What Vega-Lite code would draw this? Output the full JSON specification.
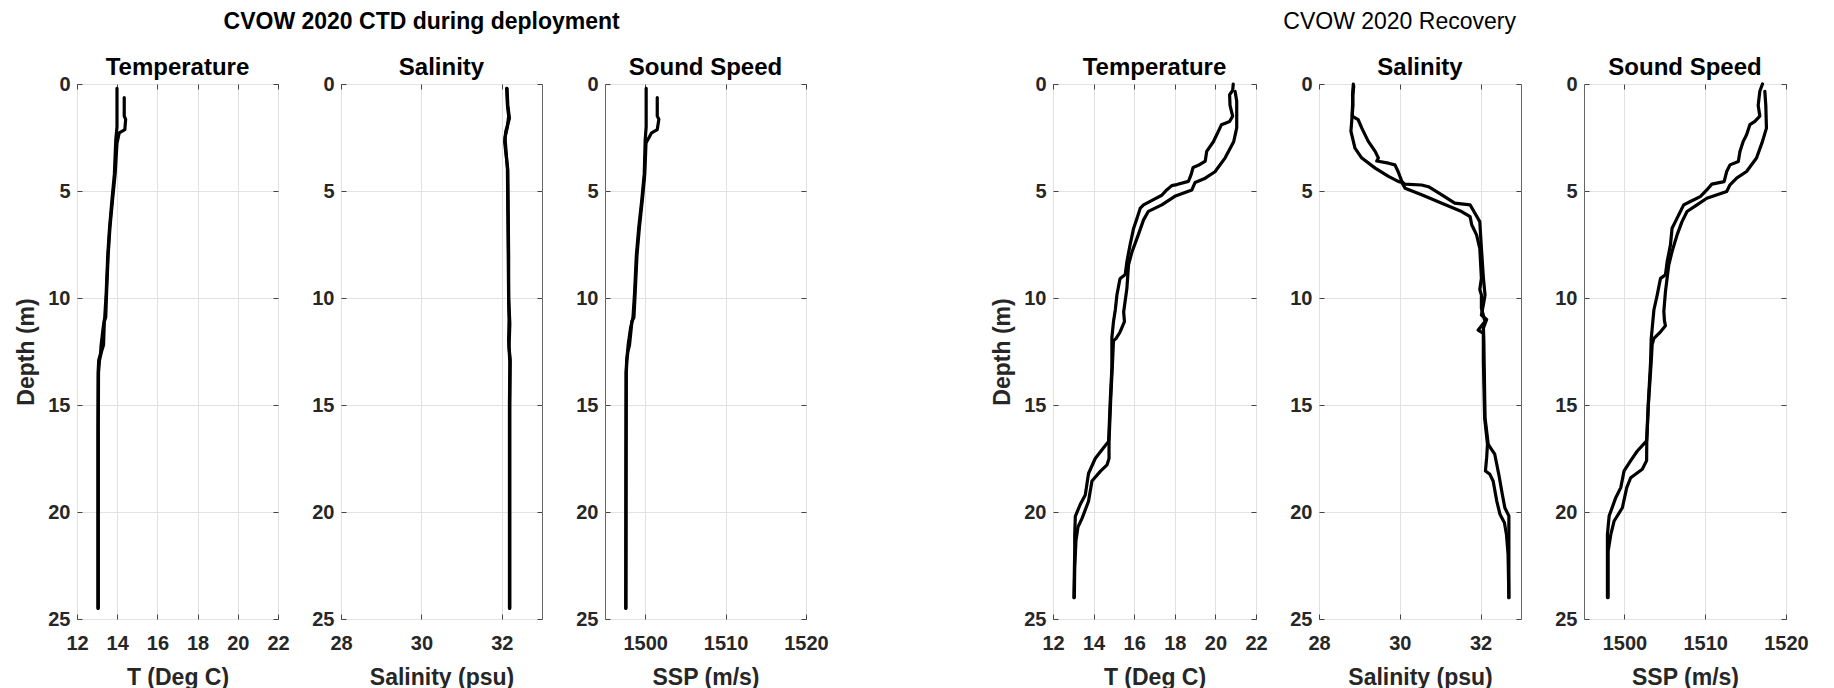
{
  "$schema": "https://vega.github.io/schema/vega-lite/v6.json",
  "background": "white",
  "padding": {"left": 14, "top": 10, "right": 0, "bottom": 0},
  "config": {
    "font": "Liberation Sans",
    "view": {"stroke": "#666666", "strokeWidth": 1},
    "axis": {
      "labelFont": "Liberation Sans", "labelFontSize": 20, "labelFontWeight": "bold", "labelColor": "#262626",
      "titleFont": "Liberation Sans", "titleFontSize": 23, "titleFontWeight": "bold", "titleColor": "#262626",
      "gridColor": "#e2e2e2", "gridWidth": 1, "domain": false, "tickColor": "#444444", "tickSize": -5, "tickWidth": 1,
      "labelFlush": false, "labelOverlap": false
    },
    "axisX": {"labelPadding": 19, "titlePadding": 13},
    "axisY": {"labelPadding": 12, "titlePadding": 10, "minExtent": 29, "maxExtent": 29},
    "title": {"font": "Liberation Sans", "fontSize": 24, "fontWeight": "bold", "color": "#000000", "baseline": "alphabetic", "offset": -6}
  },
  "datasets": {
    "depT": [
      {"c":1,"d":0.2,"v":13.99},{"c":1,"d":1.0,"v":13.99},{"c":1,"d":2.0,"v":13.99},{"c":1,"d":2.6,"v":13.93},{"c":1,"d":4.2,"v":13.86},{"c":1,"d":5.4,"v":13.74},{"c":1,"d":6.7,"v":13.62},{"c":1,"d":8.0,"v":13.53},{"c":1,"d":9.8,"v":13.45},{"c":1,"d":10.9,"v":13.38},{"c":1,"d":11.4,"v":13.3},{"c":1,"d":12.2,"v":13.2},{"c":1,"d":12.6,"v":13.17},{"c":1,"d":12.9,"v":13.08},{"c":1,"d":13.5,"v":13.05},{"c":1,"d":16,"v":13.04},{"c":1,"d":20,"v":13.04},{"c":1,"d":24.5,"v":13.04},
      {"c":2,"d":0.63,"v":14.35},{"c":2,"d":1.5,"v":14.35},{"c":2,"d":1.65,"v":14.42},{"c":2,"d":2.13,"v":14.38},{"c":2,"d":2.28,"v":14.1},{"c":2,"d":2.76,"v":13.99},{"c":2,"d":4.17,"v":13.9},{"c":2,"d":5.4,"v":13.77},{"c":2,"d":6.7,"v":13.64},{"c":2,"d":8.0,"v":13.55},{"c":2,"d":9.8,"v":13.47},{"c":2,"d":10.9,"v":13.43},{"c":2,"d":11.1,"v":13.36},{"c":2,"d":12.2,"v":13.32},{"c":2,"d":12.5,"v":13.22},{"c":2,"d":12.9,"v":13.12},{"c":2,"d":13.5,"v":13.07},{"c":2,"d":16,"v":13.06},{"c":2,"d":20,"v":13.06},{"c":2,"d":24.5,"v":13.06}
    ],
    "depS": [
      {"c":1,"d":0.2,"v":32.12},{"c":1,"d":1.0,"v":32.14},{"c":1,"d":1.5,"v":32.17},{"c":1,"d":2.0,"v":32.14},{"c":1,"d":2.5,"v":32.08},{"c":1,"d":3.0,"v":32.1},{"c":1,"d":4.0,"v":32.14},{"c":1,"d":6,"v":32.15},{"c":1,"d":8,"v":32.16},{"c":1,"d":10,"v":32.17},{"c":1,"d":11,"v":32.18},{"c":1,"d":12,"v":32.17},{"c":1,"d":13,"v":32.2},{"c":1,"d":15,"v":32.19},{"c":1,"d":20,"v":32.19},{"c":1,"d":24.5,"v":32.19},
      {"c":2,"d":0.2,"v":32.13},{"c":2,"d":1.0,"v":32.15},{"c":2,"d":1.6,"v":32.19},{"c":2,"d":2.2,"v":32.1},{"c":2,"d":2.7,"v":32.07},{"c":2,"d":3.2,"v":32.1},{"c":2,"d":4.0,"v":32.15},{"c":2,"d":6,"v":32.16},{"c":2,"d":8,"v":32.17},{"c":2,"d":10,"v":32.17},{"c":2,"d":11.2,"v":32.2},{"c":2,"d":12.3,"v":32.18},{"c":2,"d":12.9,"v":32.21},{"c":2,"d":15,"v":32.2},{"c":2,"d":20,"v":32.2},{"c":2,"d":24.5,"v":32.2}
    ],
    "depC": [
      {"c":1,"d":0.2,"v":1500.12},{"c":1,"d":2.0,"v":1500.12},{"c":1,"d":2.6,"v":1500.0},{"c":1,"d":4.2,"v":1499.88},{"c":1,"d":5.4,"v":1499.58},{"c":1,"d":6.7,"v":1499.2},{"c":1,"d":8.0,"v":1498.9},{"c":1,"d":9.8,"v":1498.67},{"c":1,"d":10.9,"v":1498.48},{"c":1,"d":11.4,"v":1498.18},{"c":1,"d":12.2,"v":1497.88},{"c":1,"d":12.9,"v":1497.7},{"c":1,"d":13.5,"v":1497.62},{"c":1,"d":18,"v":1497.6},{"c":1,"d":24.5,"v":1497.58},
      {"c":2,"d":0.63,"v":1501.5},{"c":2,"d":1.5,"v":1501.5},{"c":2,"d":1.65,"v":1501.7},{"c":2,"d":2.13,"v":1501.5},{"c":2,"d":2.28,"v":1500.8},{"c":2,"d":2.76,"v":1500.1},{"c":2,"d":4.2,"v":1499.95},{"c":2,"d":5.4,"v":1499.65},{"c":2,"d":6.7,"v":1499.28},{"c":2,"d":8.0,"v":1498.98},{"c":2,"d":9.8,"v":1498.75},{"c":2,"d":10.9,"v":1498.6},{"c":2,"d":11.1,"v":1498.35},{"c":2,"d":12.2,"v":1498.05},{"c":2,"d":12.5,"v":1497.85},{"c":2,"d":12.9,"v":1497.72},{"c":2,"d":13.5,"v":1497.65},{"c":2,"d":18,"v":1497.62},{"c":2,"d":24.5,"v":1497.6}
    ],
    "recT": [
      {"c":1,"d":0.0,"v":20.88},{"c":1,"d":0.3,"v":20.85},{"c":1,"d":0.5,"v":20.7},{"c":1,"d":1.0,"v":20.72},{"c":1,"d":1.5,"v":20.85},{"c":1,"d":1.75,"v":20.7},{"c":1,"d":1.9,"v":20.3},{"c":1,"d":2.2,"v":20.15},{"c":1,"d":2.7,"v":19.9},{"c":1,"d":3.15,"v":19.57},{"c":1,"d":3.6,"v":19.5},{"c":1,"d":3.8,"v":19.16},{"c":1,"d":3.9,"v":18.9},{"c":1,"d":4.25,"v":18.8},{"c":1,"d":4.55,"v":18.67},{"c":1,"d":4.7,"v":18.1},{"c":1,"d":4.75,"v":17.85},{"c":1,"d":4.95,"v":17.6},{"c":1,"d":5.2,"v":17.36},{"c":1,"d":5.4,"v":16.95},{"c":1,"d":5.65,"v":16.46},{"c":1,"d":5.8,"v":16.3},{"c":1,"d":6.3,"v":16.13},{"c":1,"d":6.75,"v":15.97},{"c":1,"d":7.5,"v":15.8},{"c":1,"d":8.3,"v":15.64},{"c":1,"d":8.9,"v":15.56},{"c":1,"d":9.1,"v":15.3},{"c":1,"d":9.85,"v":15.15},{"c":1,"d":10.55,"v":15.07},{"c":1,"d":11.1,"v":14.98},{"c":1,"d":11.85,"v":14.9},{"c":1,"d":13.25,"v":14.9},{"c":1,"d":14.8,"v":14.82},{"c":1,"d":16.7,"v":14.74},{"c":1,"d":17.0,"v":14.49},{"c":1,"d":17.5,"v":14.08},{"c":1,"d":18.2,"v":13.75},{"c":1,"d":19.2,"v":13.59},{"c":1,"d":19.65,"v":13.34},{"c":1,"d":20.2,"v":13.1},{"c":1,"d":21.05,"v":13.07},{"c":1,"d":21.8,"v":13.07},{"c":1,"d":24.0,"v":13.03},
      {"c":2,"d":0.35,"v":20.97},{"c":2,"d":0.8,"v":21.05},{"c":2,"d":1.5,"v":21.05},{"c":2,"d":2.05,"v":21.05},{"c":2,"d":2.7,"v":20.9},{"c":2,"d":3.45,"v":20.48},{"c":2,"d":4.1,"v":19.98},{"c":2,"d":4.4,"v":19.5},{"c":2,"d":4.6,"v":19.0},{"c":2,"d":4.95,"v":18.84},{"c":2,"d":5.25,"v":18.0},{"c":2,"d":5.65,"v":17.36},{"c":2,"d":5.95,"v":16.7},{"c":2,"d":6.35,"v":16.46},{"c":2,"d":7.05,"v":16.2},{"c":2,"d":7.85,"v":15.89},{"c":2,"d":8.45,"v":15.72},{"c":2,"d":9.55,"v":15.64},{"c":2,"d":10.65,"v":15.48},{"c":2,"d":11.1,"v":15.52},{"c":2,"d":11.6,"v":15.3},{"c":2,"d":11.9,"v":15.1},{"c":2,"d":12.0,"v":14.98},{"c":2,"d":13.25,"v":14.92},{"c":2,"d":14.8,"v":14.84},{"c":2,"d":16.7,"v":14.76},{"c":2,"d":17.5,"v":14.76},{"c":2,"d":17.8,"v":14.66},{"c":2,"d":18.1,"v":14.33},{"c":2,"d":18.55,"v":13.92},{"c":2,"d":19.5,"v":13.75},{"c":2,"d":20.3,"v":13.43},{"c":2,"d":20.7,"v":13.23},{"c":2,"d":21.35,"v":13.13},{"c":2,"d":22.6,"v":13.07},{"c":2,"d":24.0,"v":13.05}
    ],
    "recS": [
      {"c":1,"d":0.0,"v":28.85},{"c":1,"d":0.5,"v":28.83},{"c":1,"d":1.0,"v":28.84},{"c":1,"d":1.5,"v":28.82},{"c":1,"d":1.67,"v":28.97},{"c":1,"d":2.06,"v":29.06},{"c":1,"d":2.68,"v":29.22},{"c":1,"d":3.15,"v":29.39},{"c":1,"d":3.46,"v":29.47},{"c":1,"d":3.6,"v":29.43},{"c":1,"d":3.7,"v":29.72},{"c":1,"d":3.78,"v":29.88},{"c":1,"d":4.1,"v":29.96},{"c":1,"d":4.55,"v":30.05},{"c":1,"d":4.68,"v":30.12},{"c":1,"d":4.72,"v":30.54},{"c":1,"d":4.8,"v":30.71},{"c":1,"d":5.18,"v":31.04},{"c":1,"d":5.57,"v":31.36},{"c":1,"d":5.65,"v":31.74},{"c":1,"d":6.04,"v":31.86},{"c":1,"d":6.43,"v":31.98},{"c":1,"d":7.68,"v":32.02},{"c":1,"d":9.08,"v":32.07},{"c":1,"d":9.86,"v":32.11},{"c":1,"d":10.3,"v":32.07},{"c":1,"d":10.8,"v":32.02},{"c":1,"d":11.0,"v":32.15},{"c":1,"d":11.4,"v":32.07},{"c":1,"d":12.0,"v":32.08},{"c":1,"d":13.25,"v":32.09},{"c":1,"d":15.6,"v":32.11},{"c":1,"d":16.84,"v":32.19},{"c":1,"d":17.07,"v":32.27},{"c":1,"d":17.3,"v":32.35},{"c":1,"d":17.77,"v":32.4},{"c":1,"d":18.24,"v":32.45},{"c":1,"d":19.0,"v":32.52},{"c":1,"d":19.8,"v":32.6},{"c":1,"d":20.19,"v":32.7},{"c":1,"d":21.05,"v":32.7},{"c":1,"d":24.0,"v":32.7},
      {"c":2,"d":0.1,"v":28.86},{"c":2,"d":0.5,"v":28.84},{"c":2,"d":1.0,"v":28.83},{"c":2,"d":1.5,"v":28.82},{"c":2,"d":2.2,"v":28.79},{"c":2,"d":3.0,"v":28.89},{"c":2,"d":3.46,"v":29.06},{"c":2,"d":3.93,"v":29.39},{"c":2,"d":4.32,"v":29.72},{"c":2,"d":4.55,"v":29.96},{"c":2,"d":4.6,"v":30.05},{"c":2,"d":4.87,"v":30.13},{"c":2,"d":5.18,"v":30.54},{"c":2,"d":5.57,"v":31.04},{"c":2,"d":5.96,"v":31.53},{"c":2,"d":6.2,"v":31.74},{"c":2,"d":6.58,"v":31.78},{"c":2,"d":7.05,"v":31.9},{"c":2,"d":7.68,"v":31.98},{"c":2,"d":9.08,"v":32.02},{"c":2,"d":9.6,"v":31.98},{"c":2,"d":9.86,"v":32.02},{"c":2,"d":10.48,"v":32.02},{"c":2,"d":11.1,"v":32.11},{"c":2,"d":11.5,"v":31.94},{"c":2,"d":11.65,"v":32.07},{"c":2,"d":13.0,"v":32.07},{"c":2,"d":15.6,"v":32.1},{"c":2,"d":16.84,"v":32.17},{"c":2,"d":17.46,"v":32.15},{"c":2,"d":18.08,"v":32.12},{"c":2,"d":18.24,"v":32.23},{"c":2,"d":18.55,"v":32.31},{"c":2,"d":19.49,"v":32.4},{"c":2,"d":20.11,"v":32.48},{"c":2,"d":20.5,"v":32.59},{"c":2,"d":21.05,"v":32.64},{"c":2,"d":21.98,"v":32.68},{"c":2,"d":24.0,"v":32.7}
    ],
    "recC": [
      {"c":1,"d":0.0,"v":1517.09},{"c":1,"d":0.34,"v":1516.76},{"c":1,"d":1.0,"v":1516.56},{"c":1,"d":1.5,"v":1516.76},{"c":1,"d":1.75,"v":1516.15},{"c":1,"d":1.9,"v":1515.53},{"c":1,"d":2.37,"v":1515.12},{"c":1,"d":2.68,"v":1514.71},{"c":1,"d":3.15,"v":1514.3},{"c":1,"d":3.62,"v":1514.1},{"c":1,"d":3.78,"v":1513.07},{"c":1,"d":4.09,"v":1512.66},{"c":1,"d":4.56,"v":1512.34},{"c":1,"d":4.68,"v":1510.82},{"c":1,"d":4.95,"v":1510.2},{"c":1,"d":5.26,"v":1509.39},{"c":1,"d":5.49,"v":1508.16},{"c":1,"d":5.65,"v":1507.34},{"c":1,"d":5.96,"v":1506.93},{"c":1,"d":6.43,"v":1506.31},{"c":1,"d":6.74,"v":1505.9},{"c":1,"d":7.52,"v":1505.7},{"c":1,"d":8.3,"v":1505.29},{"c":1,"d":8.92,"v":1505.08},{"c":1,"d":9.08,"v":1504.47},{"c":1,"d":9.86,"v":1504.06},{"c":1,"d":10.56,"v":1503.65},{"c":1,"d":11.42,"v":1503.44},{"c":1,"d":11.89,"v":1503.32},{"c":1,"d":12.98,"v":1503.24},{"c":1,"d":14.97,"v":1502.95},{"c":1,"d":16.68,"v":1502.75},{"c":1,"d":17.15,"v":1501.6},{"c":1,"d":17.6,"v":1500.78},{"c":1,"d":18.08,"v":1499.96},{"c":1,"d":18.86,"v":1499.55},{"c":1,"d":19.33,"v":1498.93},{"c":1,"d":20.19,"v":1498.11},{"c":1,"d":21.05,"v":1497.9},{"c":1,"d":23.22,"v":1497.9},{"c":1,"d":24.0,"v":1497.9},
      {"c":2,"d":0.34,"v":1517.38},{"c":2,"d":1.0,"v":1517.5},{"c":2,"d":2.06,"v":1517.58},{"c":2,"d":2.68,"v":1517.09},{"c":2,"d":3.46,"v":1516.35},{"c":2,"d":4.09,"v":1515.12},{"c":2,"d":4.4,"v":1513.89},{"c":2,"d":4.71,"v":1513.07},{"c":2,"d":5.02,"v":1512.66},{"c":2,"d":5.34,"v":1510.2},{"c":2,"d":5.65,"v":1508.98},{"c":2,"d":5.96,"v":1507.75},{"c":2,"d":6.43,"v":1507.13},{"c":2,"d":7.05,"v":1506.52},{"c":2,"d":7.83,"v":1505.9},{"c":2,"d":8.46,"v":1505.49},{"c":2,"d":9.7,"v":1505.08},{"c":2,"d":10.64,"v":1504.88},{"c":2,"d":11.07,"v":1504.96},{"c":2,"d":11.3,"v":1505.08},{"c":2,"d":11.58,"v":1504.47},{"c":2,"d":11.89,"v":1503.65},{"c":2,"d":12.16,"v":1503.44},{"c":2,"d":12.98,"v":1503.32},{"c":2,"d":14.97,"v":1502.97},{"c":2,"d":16.68,"v":1502.77},{"c":2,"d":17.6,"v":1502.75},{"c":2,"d":18.0,"v":1502.21},{"c":2,"d":18.4,"v":1500.78},{"c":2,"d":18.86,"v":1500.29},{"c":2,"d":19.8,"v":1499.75},{"c":2,"d":20.42,"v":1498.73},{"c":2,"d":21.05,"v":1498.32},{"c":2,"d":21.82,"v":1497.99},{"c":2,"d":24.0,"v":1497.99}
    ]
  },
  "hconcat": [
    {
      "title": {"text": "CVOW 2020 CTD during deployment", "fontSize": 23, "fontWeight": "bold", "offset": 22, "anchor": "middle"},
      "bounds": "flush",
      "spacing": 63,
      "hconcat": [
        {
          "width": 201, "height": 535, "title": "Temperature", "data": {"name": "depT"},
          "layer": [
            {"mark": {"type": "line", "color": "black", "strokeWidth": 3.2, "strokeJoin": "round", "strokeCap": "round"},
             "encoding": {"x": {"field": "v", "type": "quantitative", "scale": {"domain": [12, 22], "nice": false, "zero": false}, "axis": {"values": [12, 14, 16, 18, 20, 22], "title": "T (Deg C)"}},
                          "y": {"field": "d", "type": "quantitative", "scale": {"domain": [0, 25], "reverse": true, "nice": false, "zero": false}, "axis": {"values": [0, 5, 10, 15, 20, 25], "title": "Depth (m)"}},
                          "detail": {"field": "c"}, "order": {"field": "d", "type": "quantitative"}}},
            {"mark": {"type": "line", "opacity": 0},
             "encoding": {"x": {"field": "v", "type": "quantitative", "axis": {"orient": "top", "values": [12, 14, 16, 18, 20, 22], "labels": false, "grid": false, "title": null}},
                          "y": {"field": "d", "type": "quantitative", "axis": {"orient": "right", "values": [0, 5, 10, 15, 20, 25], "labels": false, "grid": false, "title": null, "minExtent": 0, "maxExtent": 0}},
                          "detail": {"field": "c"}, "order": {"field": "d", "type": "quantitative"}}}
          ],
          "resolve": {"axis": {"x": "independent", "y": "independent"}}
        },
        {
          "width": 201, "height": 535, "title": "Salinity", "data": {"name": "depS"},
          "layer": [
            {"mark": {"type": "line", "color": "black", "strokeWidth": 3.2, "strokeJoin": "round", "strokeCap": "round"},
             "encoding": {"x": {"field": "v", "type": "quantitative", "scale": {"domain": [28, 33], "nice": false, "zero": false}, "axis": {"values": [28, 30, 32], "title": "Salinity (psu)"}},
                          "y": {"field": "d", "type": "quantitative", "scale": {"domain": [0, 25], "reverse": true, "nice": false, "zero": false}, "axis": {"values": [0, 5, 10, 15, 20, 25], "title": null}},
                          "detail": {"field": "c"}, "order": {"field": "d", "type": "quantitative"}}},
            {"mark": {"type": "line", "opacity": 0},
             "encoding": {"x": {"field": "v", "type": "quantitative", "axis": {"orient": "top", "values": [28, 30, 32], "labels": false, "grid": false, "title": null}},
                          "y": {"field": "d", "type": "quantitative", "axis": {"orient": "right", "values": [0, 5, 10, 15, 20, 25], "labels": false, "grid": false, "title": null, "minExtent": 0, "maxExtent": 0}},
                          "detail": {"field": "c"}, "order": {"field": "d", "type": "quantitative"}}}
          ],
          "resolve": {"axis": {"x": "independent", "y": "independent"}}
        },
        {
          "width": 201, "height": 535, "title": "Sound Speed", "data": {"name": "depC"},
          "layer": [
            {"mark": {"type": "line", "color": "black", "strokeWidth": 3.2, "strokeJoin": "round", "strokeCap": "round"},
             "encoding": {"x": {"field": "v", "type": "quantitative", "scale": {"domain": [1495, 1520], "nice": false, "zero": false}, "axis": {"values": [1500, 1510, 1520], "format": "d", "title": "SSP (m/s)"}},
                          "y": {"field": "d", "type": "quantitative", "scale": {"domain": [0, 25], "reverse": true, "nice": false, "zero": false}, "axis": {"values": [0, 5, 10, 15, 20, 25], "title": null}},
                          "detail": {"field": "c"}, "order": {"field": "d", "type": "quantitative"}}},
            {"mark": {"type": "line", "opacity": 0},
             "encoding": {"x": {"field": "v", "type": "quantitative", "axis": {"orient": "top", "values": [1500, 1510, 1520], "labels": false, "grid": false, "title": null}},
                          "y": {"field": "d", "type": "quantitative", "axis": {"orient": "right", "values": [0, 5, 10, 15, 20, 25], "labels": false, "grid": false, "title": null, "minExtent": 0, "maxExtent": 0}},
                          "detail": {"field": "c"}, "order": {"field": "d", "type": "quantitative"}}}
          ],
          "resolve": {"axis": {"x": "independent", "y": "independent"}}
        }
      ]
    },
    {
      "title": {"text": "CVOW 2020 Recovery", "fontSize": 23, "fontWeight": "normal", "offset": 22, "anchor": "middle"},
      "bounds": "flush",
      "spacing": 63,
      "hconcat": [
        {
          "width": 203, "height": 535, "title": "Temperature", "data": {"name": "recT"},
          "layer": [
            {"mark": {"type": "line", "color": "black", "strokeWidth": 3.2, "strokeJoin": "round", "strokeCap": "round"},
             "encoding": {"x": {"field": "v", "type": "quantitative", "scale": {"domain": [12, 22], "nice": false, "zero": false}, "axis": {"values": [12, 14, 16, 18, 20, 22], "title": "T (Deg C)"}},
                          "y": {"field": "d", "type": "quantitative", "scale": {"domain": [0, 25], "reverse": true, "nice": false, "zero": false}, "axis": {"values": [0, 5, 10, 15, 20, 25], "title": "Depth (m)"}},
                          "detail": {"field": "c"}, "order": {"field": "d", "type": "quantitative"}}},
            {"mark": {"type": "line", "opacity": 0},
             "encoding": {"x": {"field": "v", "type": "quantitative", "axis": {"orient": "top", "values": [12, 14, 16, 18, 20, 22], "labels": false, "grid": false, "title": null}},
                          "y": {"field": "d", "type": "quantitative", "axis": {"orient": "right", "values": [0, 5, 10, 15, 20, 25], "labels": false, "grid": false, "title": null, "minExtent": 0, "maxExtent": 0}},
                          "detail": {"field": "c"}, "order": {"field": "d", "type": "quantitative"}}}
          ],
          "resolve": {"axis": {"x": "independent", "y": "independent"}}
        },
        {
          "width": 202, "height": 535, "title": "Salinity", "data": {"name": "recS"},
          "layer": [
            {"mark": {"type": "line", "color": "black", "strokeWidth": 3.2, "strokeJoin": "round", "strokeCap": "round"},
             "encoding": {"x": {"field": "v", "type": "quantitative", "scale": {"domain": [28, 33], "nice": false, "zero": false}, "axis": {"values": [28, 30, 32], "title": "Salinity (psu)"}},
                          "y": {"field": "d", "type": "quantitative", "scale": {"domain": [0, 25], "reverse": true, "nice": false, "zero": false}, "axis": {"values": [0, 5, 10, 15, 20, 25], "title": null}},
                          "detail": {"field": "c"}, "order": {"field": "d", "type": "quantitative"}}},
            {"mark": {"type": "line", "opacity": 0},
             "encoding": {"x": {"field": "v", "type": "quantitative", "axis": {"orient": "top", "values": [28, 30, 32], "labels": false, "grid": false, "title": null}},
                          "y": {"field": "d", "type": "quantitative", "axis": {"orient": "right", "values": [0, 5, 10, 15, 20, 25], "labels": false, "grid": false, "title": null, "minExtent": 0, "maxExtent": 0}},
                          "detail": {"field": "c"}, "order": {"field": "d", "type": "quantitative"}}}
          ],
          "resolve": {"axis": {"x": "independent", "y": "independent"}}
        },
        {
          "width": 202, "height": 535, "title": "Sound Speed", "data": {"name": "recC"},
          "layer": [
            {"mark": {"type": "line", "color": "black", "strokeWidth": 3.2, "strokeJoin": "round", "strokeCap": "round"},
             "encoding": {"x": {"field": "v", "type": "quantitative", "scale": {"domain": [1495, 1520], "nice": false, "zero": false}, "axis": {"values": [1500, 1510, 1520], "format": "d", "title": "SSP (m/s)"}},
                          "y": {"field": "d", "type": "quantitative", "scale": {"domain": [0, 25], "reverse": true, "nice": false, "zero": false}, "axis": {"values": [0, 5, 10, 15, 20, 25], "title": null}},
                          "detail": {"field": "c"}, "order": {"field": "d", "type": "quantitative"}}},
            {"mark": {"type": "line", "opacity": 0},
             "encoding": {"x": {"field": "v", "type": "quantitative", "axis": {"orient": "top", "values": [1500, 1510, 1520], "labels": false, "grid": false, "title": null}},
                          "y": {"field": "d", "type": "quantitative", "axis": {"orient": "right", "values": [0, 5, 10, 15, 20, 25], "labels": false, "grid": false, "title": null, "minExtent": 0, "maxExtent": 0}},
                          "detail": {"field": "c"}, "order": {"field": "d", "type": "quantitative"}}}
          ],
          "resolve": {"axis": {"x": "independent", "y": "independent"}}
        }
      ]
    }
  ],
  "spacing": 161
}
